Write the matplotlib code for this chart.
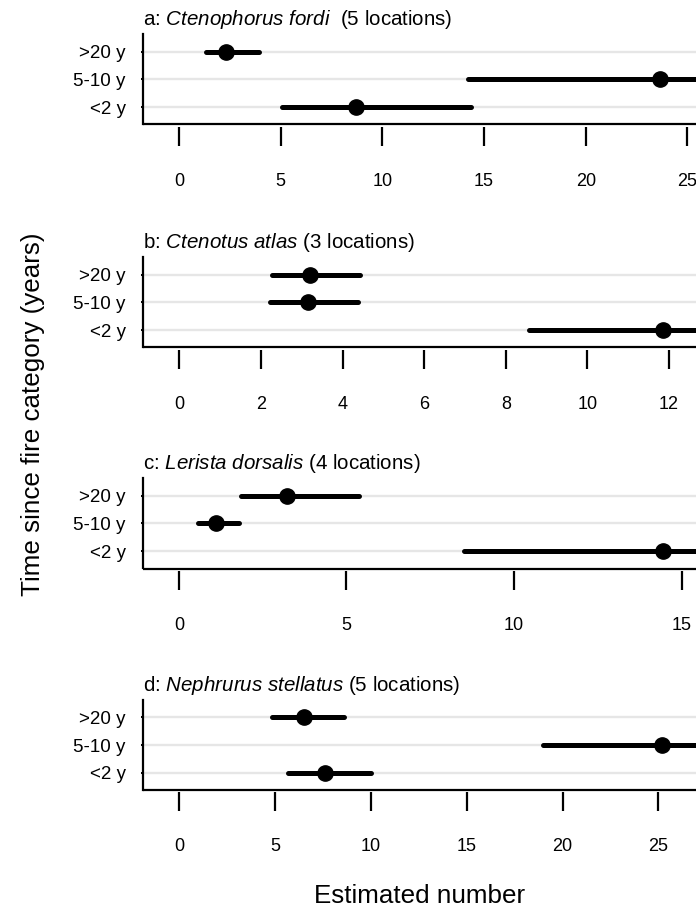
import matplotlib
matplotlib.use("Agg")
import matplotlib.pyplot as plt

plt.rcParams['font.family'] = ['Liberation Sans', 'DejaVu Sans']
plt.rcParams['mathtext.fontset'] = 'custom'
plt.rcParams['mathtext.rm'] = 'Liberation Sans'
plt.rcParams['mathtext.it'] = 'Liberation Sans:italic'

#__________________DATA

categories = ['<2 y', '5-10 y', '>20 y']
titles = [r'a: $\mathit{Ctenophorus\ fordi}$  (5 locations)',
          r'b: $\mathit{Ctenotus\ atlas}$ (3 locations)',
          r'c: $\mathit{Lerista\ dorsalis}$ (4 locations)',
          r'd: $\mathit{Nephrurus\ stellatus}$ (5 locations)']

# estimate, lower and upper bound per category (<2 y, 5-10 y, >20 y)
est_a = [8.70, 23.66, 2.30]
lo_a  = [5.06, 14.2, 1.33]
hi_a  = [14.34, 39.4, 3.94]

est_b = [11.85, 3.15, 3.21]
lo_b  = [8.56, 2.22, 2.27]
hi_b  = [16.4, 4.37, 4.42]

est_c = [14.44, 1.10, 3.22]
lo_c  = [8.52, 0.58, 1.86]
hi_c  = [24.5, 1.79, 5.38]

est_d = [7.63, 25.19, 6.52]
lo_d  = [5.66, 19.0, 4.87]
hi_d  = [10.03, 33.4, 8.60]

xticks_a = [0, 5, 10, 15, 20, 25]
xticks_b = [0, 2, 4, 6, 8, 10, 12]
xticks_c = [0, 5, 10, 15]
xticks_d = [0, 5, 10, 15, 20, 25]

xlims = [(-1.77, 25.42), (-0.89, 12.66), (-1.07, 15.43), (-1.88, 26.96)]

#__________________FIGURE

W, H = 696, 913
fig = plt.figure(figsize=(W/100, H/100), dpi=100)

bottoms = [124.5, 347.5, 568.5, 790]   # pixel rows of the panel bottoms
ax_h = 90
ax_l = 143

panels = [(est_a, lo_a, hi_a, xticks_a),
          (est_b, lo_b, hi_b, xticks_b),
          (est_c, lo_c, hi_c, xticks_c),
          (est_d, lo_d, hi_d, xticks_d)]

ypos = [1, 2, 3]

for i, (est, lo, hi, xt) in enumerate(panels):
    ax = fig.add_axes([ax_l/W, 1 - bottoms[i]/H, 1 - ax_l/W, ax_h/H])

    for s in ['top', 'right']:
        ax.spines[s].set_visible(False)
    ax.spines['left'].set_linewidth(1.6)
    # ticks sit a little below the box line
    ax.spines['bottom'].set_position(('outward', 1.5))
    ax.spines['bottom'].set_visible(False)
    ax.plot([0, 1], [0, 0], transform=ax.transAxes, color='k', lw=1.6,
            clip_on=False, zorder=4, solid_capstyle='butt')

    for y in ypos:
        ax.axhline(y, color='#e6e6e6', lw=1.7, zorder=0)

    lc = ax.hlines(ypos, lo, hi, color='k', lw=3.6, zorder=2)
    lc.set_capstyle('round')
    ax.plot(est, ypos, 'o', color='k', ms=11, zorder=3)

    ax.set_xlim(xlims[i])
    ax.set_ylim(0.38, 3.62)
    ax.set_yticks(ypos)
    ax.set_yticklabels(categories)
    ax.set_xticks(xt)
    ax.set_xticklabels([str(t) for t in xt])

    ax.tick_params(axis='x', direction='out', length=13.7, width=1.6, pad=19.5,
                   labelsize=13)
    ax.tick_params(axis='y', direction='out', length=1.5, width=1.4, pad=11,
                   labelsize=13.5)

    ax.set_title(titles[i], loc='left', fontsize=14.8, pad=6.5)

fig.text(33/W, 1 - 414/H, 'Time since fire category (years)', rotation=90,
         ha='center', va='center', fontsize=18.7)
fig.text(419.5/W, 1 - 903/H, 'Estimated number', ha='center', va='baseline',
         fontsize=18.7)

plt.savefig('out.png', dpi=100)
plt.close()
